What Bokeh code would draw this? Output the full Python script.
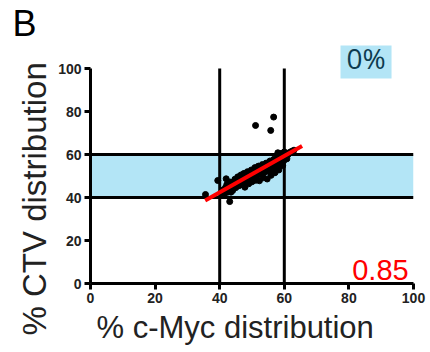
from bokeh.plotting import figure
from bokeh.models import Range1d, Label, FixedTicker, Title
from bokeh.embed import file_html
from bokeh.resources import INLINE

# ---- data ----
x_ticks = [0, 20, 40, 60, 80, 100]
y_ticks = [0, 20, 40, 60, 80, 100]

band_lo = [40]
band_hi = [60]

gate_h_y = [40, 60]
gate_v_x = [40, 60]

cmyc = [40.5, 41.0, 41.5, 41.8, 42.2, 42.5, 43.0, 43.2, 43.6, 44.0, 44.3, 44.7, 45.0, 45.3,
        45.6, 46.0, 46.2, 46.6, 47.0, 47.2, 47.5, 47.8, 48.0, 48.3, 48.6, 49.0, 49.2, 49.5,
        49.8, 50.0, 50.3, 50.6, 50.9, 51.2, 51.5, 51.8, 52.0, 52.3, 52.6, 52.9, 53.2, 53.5,
        53.8, 54.1, 54.4, 54.7, 55.0, 55.3, 55.6, 55.9, 56.2, 56.5, 56.8, 57.1, 57.4, 57.7,
        58.0, 58.3, 58.6, 58.9, 59.2, 59.5, 59.8, 60.1, 60.4, 60.8, 61.2, 61.7, 62.3,
        44.5, 46.5, 48.5, 50.5, 52.5, 54.5, 56.5, 58.5, 47.5, 51.5, 53.5, 55.5, 57.5, 45.5,
        49.5, 42.0, 43.5, 59.0, 60.0, 58.0, 63.0,
        51.1, 56.7, 55.8, 43.1, 39.4, 35.6]
ctv = [42.0, 43.5, 41.8, 44.6, 46.0, 42.5, 44.0, 47.2, 45.3, 43.2, 46.5, 48.5, 44.6, 47.0,
       49.6, 45.5, 48.0, 50.5, 46.2, 48.9, 51.2, 44.8, 47.5, 49.8, 52.0, 46.4, 48.6, 50.7,
       52.8, 47.3, 49.5, 51.6, 53.9, 48.0, 50.2, 52.4, 54.6, 47.8, 50.8, 53.0, 55.3, 49.2,
       51.6, 53.8, 56.0, 48.6, 52.2, 54.5, 57.0, 50.3, 53.0, 55.2, 57.8, 51.5, 53.6, 56.0,
       58.5, 52.8, 55.0, 57.2, 59.5, 54.8, 57.0, 59.0, 60.6, 58.0, 60.0, 61.0, 61.5,
       45.0, 47.0, 48.0, 50.0, 52.0, 53.0, 54.5, 56.5, 47.5, 51.5, 52.5, 55.5, 57.0, 46.0,
       49.0, 48.7, 42.5, 60.5, 61.2, 60.8, 62.0,
       73.5, 77.4, 71.2, 38.1, 47.9, 41.4]

fit_x = [35.5, 65.5]
fit_y = [38.6, 64.0]

pct_text = "0%"
pct_box_x = [77.4, 93.2]
pct_box_y = [95.3, 125.0]
coef_text = "0.85"
panel_text = "B"
x_title = "% c-Myc distribution"
y_title = "% CTV distribution"

FRAME_TOP = 45
Y_TOP = (283 - FRAME_TOP) / 2.15

# ---- figure ----
p = figure(width=430, height=352, output_backend="svg", toolbar_location=None,
           x_range=Range1d(0, 100), y_range=Range1d(0, Y_TOP),
           min_border_left=90, min_border_right=17, min_border_top=FRAME_TOP, min_border_bottom=69)
p.outline_line_color = None
p.grid.visible = False
p.background_fill_color = "white"
p.border_fill_color = "white"

p.quad(left=[x_ticks[0]], right=[x_ticks[-1]], bottom=band_lo, top=band_hi,
       fill_color="#b3e5f6", line_color=None)
p.quad(left=[pct_box_x[0]], right=[pct_box_x[1]], bottom=[pct_box_y[0]], top=[pct_box_y[1]],
       fill_color="#b3e5f6", line_color=None)

p.segment(x0=[0, 0], x1=[100, 100], y0=gate_h_y, y1=gate_h_y, line_color="black", line_width=3)
p.segment(x0=gate_v_x, x1=gate_v_x, y0=[0, 0], y1=[100, 100], line_color="black", line_width=3)

p.scatter(cmyc, ctv, size=6, color="black")
p.line(fit_x, fit_y, line_color="red", line_width=4)

for ax in (p.xaxis[0], p.yaxis[0]):
    ax.axis_line_width = 3
    ax.axis_line_color = "black"
    ax.major_tick_line_width = 3
    ax.major_tick_line_color = "black"
    ax.major_tick_out = 6
    ax.major_tick_in = 0
    ax.minor_tick_line_color = None
    ax.major_label_text_font = "Liberation Sans"
    ax.major_label_text_font_style = "bold"
    ax.major_label_text_font_size = "14px"
    ax.major_label_text_color = "#222222"
    ax.major_label_standoff = 3

p.xaxis.ticker = FixedTicker(ticks=x_ticks)
p.yaxis.ticker = FixedTicker(ticks=y_ticks)
p.yaxis.bounds = (0, 100)

p.add_layout(Title(text=x_title, align="left", offset=6, standoff=4,
                   text_font="Liberation Sans", text_font_style="normal",
                   text_font_size="31px", text_color="#222222"), "below")
p.add_layout(Title(text=y_title, align="left", offset=-52, standoff=6,
                   text_font="Liberation Sans", text_font_style="normal",
                   text_font_size="33px", text_color="#222222"), "left")
p.add_layout(Title(text=panel_text, align="left", offset=-78, standoff=0, vertical_align="top",
                   text_font="Liberation Sans", text_font_style="normal",
                   text_font_size="36px", text_color="black"), "above")

p.add_layout(Label(x=98.5, y=6.5, text=coef_text, text_color="red", text_font="Liberation Sans",
                   text_font_size="29px", text_align="right", text_baseline="alphabetic"))
p.add_layout(Label(x=85.3, y=104.9, text=pct_text, text_color="#0d3b4f", text_font="Open Sans",
                   text_font_size="28px", text_align="center", text_baseline="middle"))

open("out.html", "w").write(file_html(p, INLINE))
